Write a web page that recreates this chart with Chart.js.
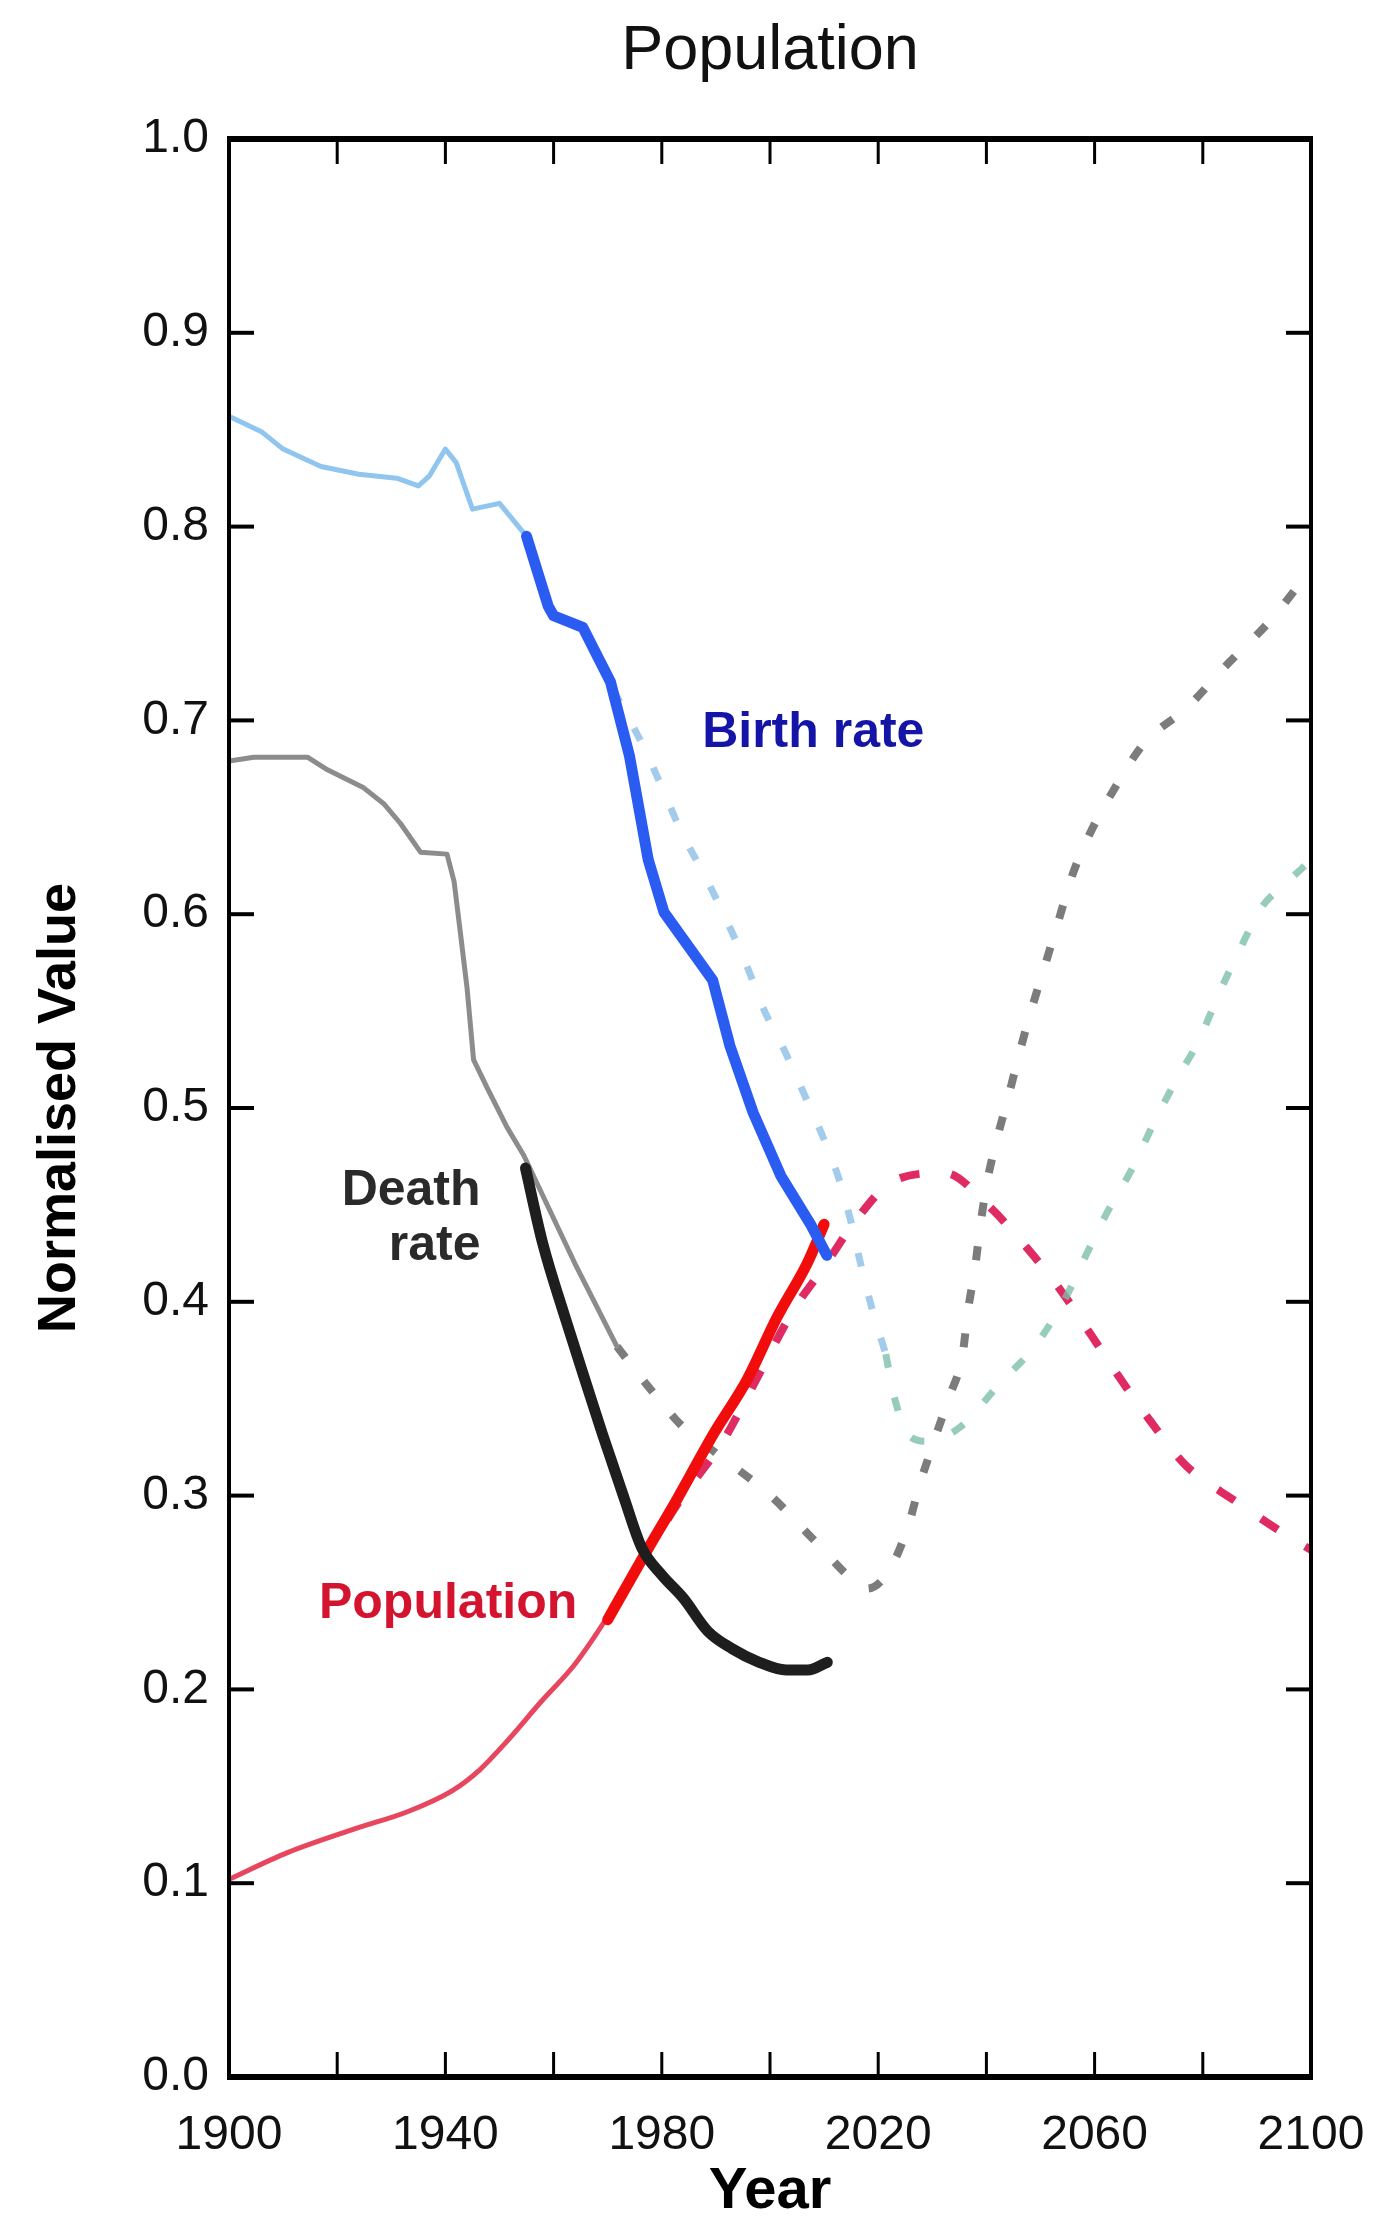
<!DOCTYPE html>
<html>
<head>
<meta charset="utf-8">
<script src="https://cdn.jsdelivr.net/npm/chart.js@4.4.1/dist/chart.umd.min.js"></script>
<style>
html,body{margin:0;padding:0;background:#fff;}
#wrap{width:1399px;height:2224px;position:relative;}
</style>
</head>
<body>
<div id="wrap"><canvas id="c"></canvas></div>
<script>
// ---------- data (years, normalised values) ----------
const birthHistYears = [1900,1906,1910,1917,1924,1931,1935,1937,1940,1942,1945,1950,1955];
const birthHistVals  = [0.857,0.849,0.840,0.831,0.827,0.825,0.821,0.826,0.840,0.833,0.809,0.812,0.795];

const birthYears = [1955,1959,1960,1965.4,1970.5,1974,1977.5,1980.4,1989.4,1992.6,1996.9,2002,2007.5,2010.5];
const birthVals  = [0.795,0.759,0.754,0.748,0.720,0.682,0.628,0.601,0.566,0.532,0.4975,0.465,0.440,0.424];

const birthProjYears = [1971,1976.7,1980.4,1983.6,1987.8,1992,1995.7,1999,2002.7,2006.4,2010,2012.8,2014.9,2016.8,2018.8,2021.4];
const birthProjVals  = [0.716,0.686,0.663,0.6425,0.6206,0.5966,0.5734,0.550,0.5295,0.5066,0.4836,0.463,0.442,0.419,0.397,0.373];

const birthLateYears = [2021.4,2023.1,2025.7,2029,2035.3,2042.2,2049.2,2054.8,2058.4,2062.3,2067,2071,2075,2079.3,2083,2086.7,2091,2095,2100];
const birthLateVals  = [0.373,0.3495,0.331,0.328,0.3357,0.357,0.378,0.403,0.424,0.446,0.469,0.4925,0.514,0.535,0.559,0.581,0.604,0.615,0.628];

const deathHistYears = [1900,1904.6,1914.5,1918.2,1924.9,1928.6,1931.7,1935.4,1940.3,1941.6,1942.8,1944,1945.2,1947.7,1951.4,1954.5,1963.9,1971.7];
const deathHistVals  = [0.679,0.681,0.681,0.6745,0.6652,0.657,0.6468,0.632,0.631,0.617,0.5897,0.562,0.525,0.5105,0.490,0.4755,0.420,0.377];

const deathYears = [1954.8,1958,1962,1966,1969,1973,1976.3,1980,1984,1988.5,1993,1998,2003,2007,2010.6];
const deathVals  = [0.469,0.430,0.393,0.358,0.332,0.299,0.273,0.259,0.247,0.230,0.221,0.214,0.210,0.210,0.214];

const deathProjYears = [1971.7,1977,1983.8,1990,2000.1,2007.8,2015.5,2018,2021.7,2025.4,2027.7,2030.3,2033,2035.6,2036.6,2037.9,2038.9,2040.2,2042,2044.1,2046.3,2048.5,2050.9,2053.4,2055.9,2059.2,2063.5,2069.1,2077.1,2084.8,2092.5,2100];
const deathProjVals  = [0.377,0.358,0.3357,0.322,0.300,0.278,0.256,0.252,0.260,0.283,0.306,0.328,0.350,0.373,0.3955,0.4176,0.4398,0.4628,0.4845,0.5063,0.5305,0.5524,0.5743,0.5973,0.6203,0.642,0.664,0.688,0.7067,0.7297,0.7516,0.778];

const popHistYears = [1900,1910.8,1923.2,1933.1,1941.3,1946.3,1951.2,1957.8,1963.6,1967.7,1971];
const popHistVals  = [0.102,0.1158,0.128,0.137,0.1478,0.1584,0.1727,0.194,0.2118,0.2278,0.242];

const popYears = [1970,1976.7,1982.8,1989.6,1995.8,2001.3,2006.9,2010];
const popVals  = [0.236,0.269,0.298,0.332,0.360,0.392,0.420,0.440];

const popProjYears = [1971,1976.7,1983,1991.5,1995.8,2004.4,2010,2016.1,2023.1,2032.3,2040.2,2047.5,2053.8,2059.4,2064.7,2070.3,2076.9,2086.1,2095,2100];
const popProjVals  = [0.242,0.268,0.296,0.329,0.351,0.396,0.418,0.443,0.4628,0.4665,0.450,0.4278,0.4057,0.3827,0.3605,0.3385,0.3155,0.297,0.2804,0.272];

// in-plot labels: text, anchor year, anchor value
const labelTexts  = ['Birth rate','Death','rate','Population'];
const labelYears  = [2008.0,1946.5,1946.5,1940.5];
const labelValues = [0.6862,0.4501,0.4214,0.2366];

const xMin = 1900, xMax = 2100, xStep = 20, xLabelStep = 40;
const yMin = 0, yMax = 1, yStep = 0.1;

// ---------- helpers ----------
const pts = (xs, ys) => xs.map((x, i) => ({x: x, y: ys[i]}));
const FONT = "'Liberation Sans', Arial, Helvetica, sans-serif";
Chart.defaults.font.family = FONT;

const labelStyles = [
  {color:'#1414a6', align:'center'},
  {color:'#2a2a2a', align:'right'},
  {color:'#2a2a2a', align:'right'},
  {color:'#d4132f', align:'center'}
];

const labelPlugin = {
  id: 'inlabels',
  afterDatasetsDraw(chart) {
    const {ctx, scales: {x, y}} = chart;
    ctx.save();
    ctx.font = "bold 50px " + FONT;
    ctx.textBaseline = 'alphabetic';
    labelTexts.forEach((t, i) => {
      ctx.fillStyle = labelStyles[i].color;
      ctx.textAlign = labelStyles[i].align;
      ctx.fillText(t, x.getPixelForValue(labelYears[i]), y.getPixelForValue(labelValues[i]));
    });
    ctx.restore();
  }
};

const framePlugin = {
  id: 'frame',
  afterDraw(chart) {
    const {ctx, chartArea: a, scales: {x, y}} = chart;
    const tl = 25;
    ctx.save();
    ctx.strokeStyle = '#000';
    ctx.lineCap = 'butt';
    const seg = (x1, y1, x2, y2) => { ctx.beginPath(); ctx.moveTo(x1, y1); ctx.lineTo(x2, y2); ctx.stroke(); };
    ctx.lineWidth = 3;
    x.ticks.forEach(t => {
      if (t.value <= xMin || t.value >= xMax) return;
      const px = x.getPixelForValue(t.value);
      seg(px, a.top, px, a.top + tl);
      seg(px, a.bottom, px, a.bottom - tl);
    });
    ctx.lineWidth = 4;
    y.ticks.forEach(t => {
      if (t.value <= yMin + 1e-9 || t.value >= yMax - 1e-9) return;
      const py = y.getPixelForValue(t.value);
      seg(a.left, py, a.left + tl, py);
      seg(a.right, py, a.right - tl, py);
    });
    ctx.lineWidth = 4;
    seg(a.left, a.top - 3, a.left, a.bottom + 3);
    seg(a.right, a.top - 3, a.right, a.bottom + 3);
    ctx.lineWidth = 6;
    seg(a.left - 2, a.top, a.right + 2, a.top);
    seg(a.left - 2, a.bottom, a.right + 2, a.bottom);
    ctx.restore();
  }
};

const solid = (label, xs, ys, color, w, order, smooth) => ({
  label, data: pts(xs, ys), borderColor: color, borderWidth: w,
  pointRadius: 0, tension: 0, fill: false, order,
  cubicInterpolationMode: smooth ? 'monotone' : 'default',
  borderCapStyle: 'round', borderJoinStyle: 'round'
});
const dotted = (label, xs, ys, color, w, dash, order) => ({
  label, data: pts(xs, ys), borderColor: color, borderWidth: w,
  pointRadius: 0, cubicInterpolationMode: 'monotone', fill: false, order,
  borderDash: dash, borderCapStyle: 'butt'
});

new Chart(document.getElementById('c'), {
  type: 'line',
  data: {
    datasets: [
      solid('Birth rate', birthYears, birthVals, '#2b5cf2', 11, 0, false),
      solid('Death rate', deathYears, deathVals, '#1e1e1e', 11, 0, true),
      solid('Population', popYears, popVals, '#f20d0d', 11, 0, true),
      solid('Birth rate (early)', birthHistYears, birthHistVals, '#8fc5ee', 5, 1, false),
      solid('Death rate (early)', deathHistYears, deathHistVals, '#8c8c8c', 5, 1, false),
      solid('Population (early)', popHistYears, popHistVals, '#e8465f', 5, 1, true),
      dotted('Birth rate projection', birthProjYears, birthProjVals, 'rgba(140,190,230,0.8)', 7, [14, 30], 2),
      dotted('Birth rate projection (late)', birthLateYears, birthLateVals, 'rgba(125,190,170,0.8)', 7, [14, 30], 2),
      dotted('Death rate projection', deathProjYears, deathProjVals, '#7c7c7c', 8, [14, 30], 2),
      dotted('Population projection', popProjYears, popProjVals, '#e02a62', 8, [20, 32], 2)
    ]
  },
  options: {
    responsive: true,
    maintainAspectRatio: false,
    animation: false,
    devicePixelRatio: 1,
    layout: {padding: {left: 0, right: 88, top: 0, bottom: 0}},
    plugins: {
      legend: {display: false},
      tooltip: {enabled: false},
      title: {
        display: true, text: 'Population', color: '#111', fullSize: false,
        font: {size: 63, weight: 'normal', lineHeight: 1},
        padding: {top: 20, bottom: 56}
      }
    },
    scales: {
      x: {
        type: 'linear', position: 'bottom', min: xMin, max: xMax,
        grid: {display: false, drawTicks: false},
        border: {display: false},
        ticks: {
          stepSize: xStep, autoSkip: false, maxRotation: 0, minRotation: 0,
          color: '#111', font: {size: 48}, padding: 30,
          callback: v => ((v - xMin) % xLabelStep === 0 ? String(v) : '')
        },
        title: {display: true, text: 'Year', color: '#000', font: {size: 58, weight: 'bold', lineHeight: 1}, padding: {top: 0, bottom: 3}},
        afterFit: s => { s.height = 147; }
      },
      y: {
        type: 'linear', position: 'left', min: yMin, max: yMax,
        grid: {display: false, drawTicks: false},
        border: {display: false},
        ticks: {
          stepSize: yStep, autoSkip: false, color: '#111', font: {size: 48}, padding: 20,
          callback: v => Number(v).toFixed(1)
        },
        title: {display: true, text: 'Normalised Value', color: '#000', font: {size: 54, weight: 'bold', lineHeight: 1}, padding: {top: 33, bottom: 0}},
        afterFit: s => { s.width = 229; }
      }
    }
  },
  plugins: [labelPlugin, framePlugin]
});
</script>
</body>
</html>
